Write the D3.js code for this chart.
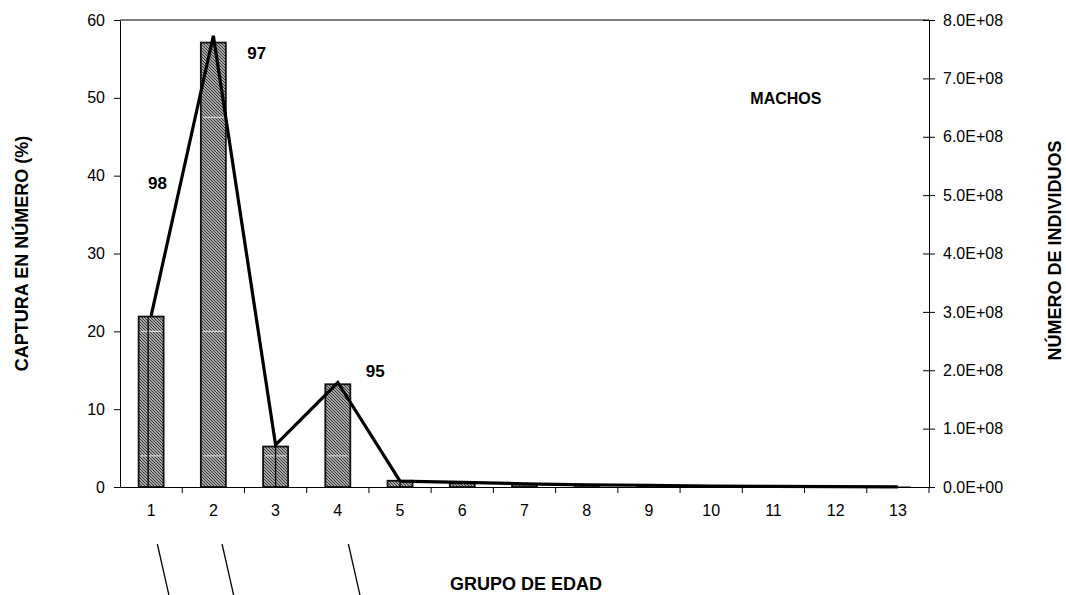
<!DOCTYPE html>
<html>
<head>
<meta charset="utf-8">
<script src="https://cdn.jsdelivr.net/npm/d3@7"></script>
<style>
  body { margin: 0; background: #fff; }
  svg { font-family: "Liberation Sans", Arial, sans-serif; }
</style>
</head>
<body>
<div id="chart"></div>
<script>
// age groups on the x axis
const grupos = [1, 2, 3, 4, 5, 6, 7, 8, 9, 10, 11, 12, 13];
// bars: capture in number (%), left axis
const capturaPct = [21.9, 57.1, 5.2, 13.2, 0.8, 0.47, 0.35, 0.15, 0.08, 0.05, 0.03, 0.02, 0.01];
// line: number of individuals, right axis
const individuos = [2.93e8, 7.73e8, 0.72e8, 1.79e8, 1.0e7, 0.8e7, 0.55e7, 0.35e7, 0.3e7, 0.15e7, 0.1e7, 0.05e7, 0.02e7];
// year-class labels near the peaks
const cohortes = [{ g: 1, lbl: "98", v: 38.3, dx: -3 }, { g: 2, lbl: "97", v: 55, dx: 34 }, { g: 4, lbl: "95", v: 14.1, dx: 28 }];
// slashes under the axis, in age-group units
const marcas = [1.1, 2.14, 4.17];
const leftTicks = [0, 10, 20, 30, 40, 50, 60];
const rightTicks = [0, 1e8, 2e8, 3e8, 4e8, 5e8, 6e8, 7e8, 8e8];

const W = 1066, H = 595;
const margin = { top: 20, right: 137, bottom: 108, left: 120 };
const width = W - margin.left - margin.right;
const height = H - margin.top - margin.bottom;

const svg = d3.select("#chart").append("svg")
    .attr("width", W)
    .attr("height", H);

// hatch pattern for the bars
const defs = svg.append("defs");
const pat = defs.append("pattern")
    .attr("id", "hatch")
    .attr("patternUnits", "userSpaceOnUse")
    .attr("width", 3).attr("height", 3);
pat.append("rect").attr("width", 3).attr("height", 3).attr("fill", "#a6a6a6");
pat.append("path").attr("d", "M-1,-1 L4,4 M-1,2 L1,4 M2,-1 L4,1")
    .attr("stroke", "#383838").attr("stroke-width", 1);

const g = svg.append("g").attr("transform", `translate(${margin.left},${margin.top})`);

const x = d3.scaleBand().domain(grupos).range([0, width]);
const xLin = d3.scaleLinear().domain([0.5, 13.5]).range([0, width]);
const y = d3.scaleLinear().domain([0, 60]).range([height, 0]);
const y2 = d3.scaleLinear().domain([0, 8e8]).range([height, 0]);

const barW = 25;

// bars
g.selectAll("rect.bar")
    .data(grupos)
    .enter().append("rect")
    .attr("class", "bar")
    .attr("x", (d) => x(d) + x.bandwidth() / 2 - barW / 2)
    .attr("y", (d, i) => y(capturaPct[i]))
    .attr("width", barW)
    .attr("height", (d, i) => height - y(capturaPct[i]))
    .attr("fill", "url(#hatch)")
    .attr("stroke", (d, i) => capturaPct[i] > 0.2 ? "#111" : "#333")
    .attr("stroke-width", (d, i) => capturaPct[i] > 0.2 ? 1.8 : 1);

// thin white streaks across the taller bars
[4, 20, 47.5].forEach((v) => {
    grupos.forEach((d, i) => {
        if (capturaPct[i] > v + 0.5) {
            g.append("line")
                .attr("x1", x(d) + x.bandwidth() / 2 - barW / 2 + 2)
                .attr("x2", x(d) + x.bandwidth() / 2 + barW / 2 - 2)
                .attr("y1", y(v)).attr("y2", y(v))
                .attr("stroke", "#e6e6e6").attr("stroke-width", 1);
        }
    });
});

// dividers seen inside bars 1, 3 and 5
[1, 3, 5].forEach((d) => {
    const i = grupos.indexOf(d);
    const cx = xLin(d) - (d === 1 ? 3 : 0);
    g.append("line")
        .attr("x1", cx).attr("x2", cx)
        .attr("y1", y(capturaPct[i])).attr("y2", height)
        .attr("stroke", "#000").attr("stroke-width", 1.3);
});

// line series
const line = d3.line()
    .x((d, i) => xLin(grupos[i]))
    .y((d) => y2(d));
g.append("path")
    .attr("d", line(individuos))
    .attr("fill", "none")
    .attr("stroke", "#000")
    .attr("stroke-width", 3.2)
    .attr("stroke-linejoin", "miter");

// top border of plot
g.append("line")
    .attr("x1", 0).attr("x2", width)
    .attr("y1", 0).attr("y2", 0)
    .attr("stroke", "#000").attr("stroke-width", 1);

// left axis
const axL = g.append("g")
    .call(d3.axisLeft(y).tickValues(leftTicks).tickSize(6).tickPadding(9).tickSizeOuter(0));
axL.selectAll("text").style("font-size", "16px").attr("fill", "#000");

// right axis (ticks cross the line)
const axR = g.append("g").attr("transform", `translate(${width},0)`)
    .call(d3.axisRight(y2).tickValues(rightTicks).tickSizeInner(6).tickSizeOuter(0).tickPadding(8)
        .tickFormat((d) => (d / 1e8).toFixed(1) + "E+" + (d === 0 ? "00" : "08")));
axR.selectAll(".tick line").attr("x1", -6);
axR.selectAll("text").style("font-size", "16px").attr("fill", "#000");

// bottom axis: ticks at category boundaries
const axB = g.append("g").attr("transform", `translate(0,${height})`)
    .call(d3.axisBottom(x).tickSize(0).tickPadding(18));
axB.selectAll("text").style("font-size", "16px").attr("fill", "#000");
g.append("g").selectAll("line")
    .data(d3.range(1, 14))
    .enter().append("line")
    .attr("x1", (d) => xLin(d + 0.5)).attr("x2", (d) => xLin(d + 0.5))
    .attr("y1", height).attr("y2", height + 6)
    .attr("stroke", "#000");

// year-class labels
g.selectAll("text.coh")
    .data(cohortes)
    .enter().append("text")
    .attr("class", "coh")
    .attr("x", (d) => xLin(d.g) + d.dx)
    .attr("y", (d) => y(d.v))
    .style("font-size", "17px").style("font-weight", "bold")
    .text((d) => d.lbl);

g.append("text")
    .attr("x", xLin(11.2)).attr("y", y(49.2))
    .attr("text-anchor", "middle")
    .style("font-size", "16px").style("font-weight", "bold")
    .text("MACHOS");

// slashes below the axis
g.selectAll("line.marca")
    .data(marcas)
    .enter().append("line")
    .attr("x1", (d) => xLin(d)).attr("y1", height + 57)
    .attr("x2", (d) => xLin(d) + 12).attr("y2", height + 110)
    .attr("stroke", "#000").attr("stroke-width", 1.3);

// axis titles
svg.append("text")
    .attr("transform", `translate(28,${margin.top + height / 2}) rotate(-90)`)
    .attr("text-anchor", "middle")
    .style("font-size", "18px").style("font-weight", "bold")
    .text("CAPTURA EN NÚMERO (%)");

svg.append("text")
    .attr("transform", `translate(1061,${margin.top + height / 2 - 3}) rotate(-90)`)
    .attr("text-anchor", "middle")
    .style("font-size", "18px").style("font-weight", "bold")
    .text("NÚMERO DE INDIVIDUOS");

svg.append("text")
    .attr("x", 526).attr("y", 590)
    .attr("text-anchor", "middle")
    .style("font-size", "18px").style("font-weight", "bold")
    .text("GRUPO DE EDAD");
</script>
</body>
</html>
